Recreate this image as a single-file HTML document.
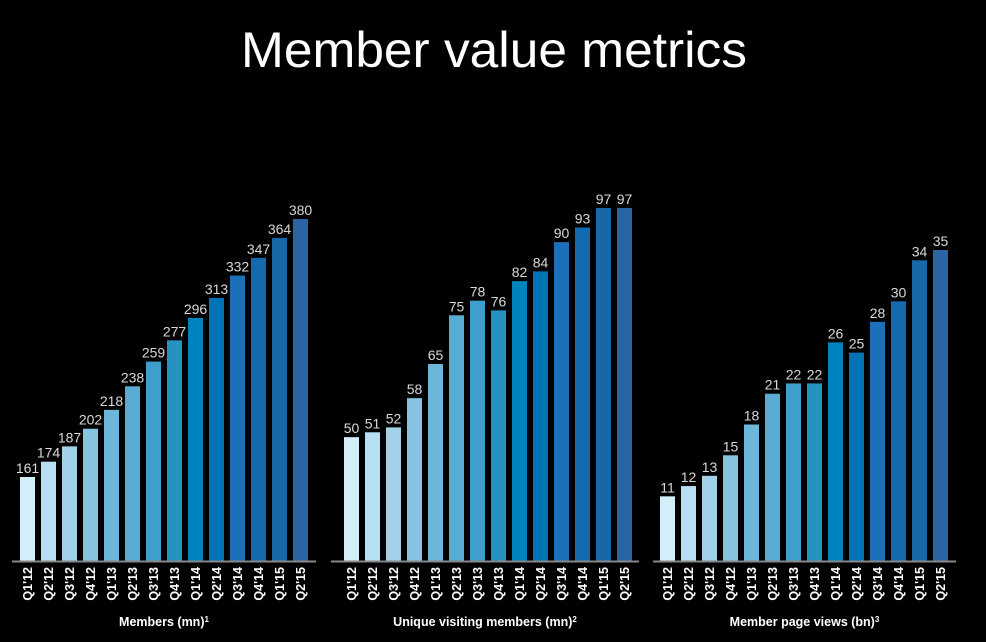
<!DOCTYPE html>
<html><head><meta charset="utf-8"><style>
html,body{margin:0;padding:0;background:#000;}
svg{display:block;}
text{font-family:"Liberation Sans",sans-serif;}
</style></head><body>
<svg id="c" width="986" height="642" viewBox="0 0 986 642">
<text x="494" y="67" text-anchor="middle" fill="#fff" font-size="50" textLength="506" lengthAdjust="spacingAndGlyphs">Member value metrics</text>
</svg>
<script>
const categories = ["Q1'12","Q2'12","Q3'12","Q4'12","Q1'13","Q2'13","Q3'13","Q4'13","Q1'14","Q2'14","Q3'14","Q4'14","Q1'15","Q2'15"];
const membersValues = [161,174,187,202,218,238,259,277,296,313,332,347,364,380];
const uniqueVisitingValues = [50,51,52,58,65,75,78,76,82,84,90,93,97,97];
const pageViewsValues = [11,12,13,15,18,21,22,22,26,25,28,30,34,35];
const barColors = ["#d4eef9","#b6dff1","#a1d2e8","#86c3e1","#6cb6d9","#58abd3","#3f9fcc","#2592c2","#0083bf","#0073b4","#1d70b8","#146aae","#1867a8","#2b64a2"];
const panels = [
  {name:"members", title:"Members (mn)", sup:"1", values:membersValues, x0:20, lineX:[12,316], dmin:89.7, dmax:380, ymax:219},
  {name:"unique-visiting-members", title:"Unique visiting members (mn)", sup:"2", values:uniqueVisitingValues, x0:344, lineX:[331,639], dmin:24.6, dmax:97, ymax:208},
  {name:"member-page-views", title:"Member page views (bn)", sup:"3", values:pageViewsValues, x0:660, lineX:[653,956], dmin:4.7, dmax:35, ymax:250}
];
const svg = document.getElementById('c');
const NS = 'http://www.w3.org/2000/svg';
const baseY = 561, pitch = 21, bw = 15;
function mk(tag, attrs){const e=document.createElementNS(NS,tag);for(const k in attrs)e.setAttribute(k,attrs[k]);return e;}
panels.forEach(p=>{
  const g = mk('g',{});
  
  
  svg.appendChild(g);
  const yScale = v => baseY - (v - p.dmin) / (p.dmax - p.dmin) * (baseY - p.ymax);
  const xScale = i => p.x0 + i * pitch;
  p.values.forEach((v,i)=>{
    const y = yScale(v);
    const r = mk('rect',{x:xScale(i), y:y, width:bw, height:baseY-y, fill:barColors[i]});
    
    
    g.appendChild(r);
    const t = mk('text',{x:xScale(i)+bw/2, y:y-4, 'text-anchor':'middle', fill:'#d8d8d8', 'font-size':'14'});
    t.textContent = v;
    
    
    g.appendChild(t);
    const cx = xScale(i)+bw/2+4.5, cy = 567;
    const c = mk('text',{x:cx, y:cy, 'text-anchor':'end', fill:'#fff', 'font-size':'12.5', 'font-weight':'bold', transform:'rotate(-90 '+cx+' '+cy+')'});
    c.textContent = categories[i];
    
    
    g.appendChild(c);
  });
  const ln = mk('line',{x1:p.lineX[0], x2:p.lineX[1], y1:baseY+0.5, y2:baseY+0.5, stroke:'#888', 'stroke-width':'2'});
  
  
  g.appendChild(ln);
  const tt = mk('text',{x:(p.lineX[0]+p.lineX[1])/2, y:626, 'text-anchor':'middle', fill:'#fff', 'font-size':'12.5', 'font-weight':'bold'});
  tt.textContent = p.title;
  const s = mk('tspan',{'font-size':'8', dy:'-4'});
  s.textContent = p.sup;
  tt.appendChild(s);
  
  
  g.appendChild(tt);
});
</script>
</body></html>
